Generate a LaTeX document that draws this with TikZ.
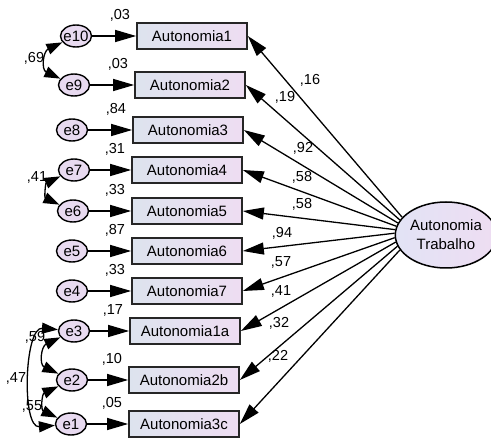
\documentclass[tikz,border=0pt]{standalone}
\usepackage{fontspec}
\setmainfont{Liberation Sans}
\usetikzlibrary{arrows.meta,shapes.geometric}

\definecolor{boxblue}{HTML}{DDE3EE}
\definecolor{boxpink}{HTML}{EEDDF2}
\definecolor{errfill}{HTML}{E8DAF0}
\definecolor{latblue}{HTML}{E2E3F5}

\begin{document}
\begin{tikzpicture}[x=1pt,y=1pt,
    obs/.style={rectangle,draw=black!85,line width=1.7pt,minimum width=110pt,minimum height=26pt,
        inner sep=0pt,left color=boxblue,right color=boxpink,font=\fontsize{15}{16}\selectfont},
    err/.style={ellipse,draw,line width=1.4pt,fill=errfill,minimum width=31pt,minimum height=22pt,
        inner xsep=-2pt,inner ysep=0pt,font=\fontsize{15}{16}\selectfont},
    lat/.style={ellipse,draw,line width=1.5pt,left color=latblue,right color=boxpink,
        minimum width=89pt,minimum height=66pt,inner sep=0pt,align=center,font=\fontsize{15}{19}\selectfont},
    load/.style={-{Triangle[length=21pt,width=12pt]},line width=1.3pt},
    cov/.style={{Triangle[length=16pt,width=11pt]}-{Triangle[length=16pt,width=11pt]},line width=1.3pt},
    lbl/.style={font=\fontsize{14.5}{16}\selectfont,inner sep=0pt},
    r2/.style={lbl,anchor=south east,xshift=-6pt,yshift=1pt}
]
    \useasboundingbox (0,0) rectangle (491,-441);

    % latent variable
    \node [lat] (AT) at (446,-235) {Autonomia\\Trabalho};

    % observed items
    \node [obs] (A1) at (192,-36) {Autonomia1};
    \node [obs] (A2) at (190,-85) {Autonomia2};
    \node [obs] (A3) at (188,-130) {Autonomia3};
    \node [obs] (A4) at (187,-170) {Autonomia4};
    \node [obs] (A5) at (187,-211) {Autonomia5};
    \node [obs] (A6) at (187,-251) {Autonomia6};
    \node [obs] (A7) at (187,-291) {Autonomia7};
    \node [obs] (A1a) at (185,-331) {Autonomia1a};
    \node [obs] (A2b) at (184,-380) {Autonomia2b};
    \node [obs] (A3c) at (184,-424) {Autonomia3c};

    % errors
    \node [err] (e10) at (76,-36) {e10};
    \node [err] (e9) at (74,-85) {e9};
    \node [err] (e8) at (72,-130) {e8};
    \node [err] (e7) at (74,-170) {e7};
    \node [err] (e6) at (73,-211) {e6};
    \node [err] (e5) at (72,-251) {e5};
    \node [err] (e4) at (72,-291) {e4};
    \node [err] (e3) at (74,-331) {e3};
    \node [err] (e2) at (72,-380) {e2};
    \node [err] (e1) at (71,-424) {e1};

    % error -> item
    \draw [load] (e10) -- (A1);
    \draw [load] (e9) -- (A2);
    \draw [load] (e8) -- (A3);
    \draw [load] (e7) -- (A4);
    \draw [load] (e6) -- (A5);
    \draw [load] (e5) -- (A6);
    \draw [load] (e4) -- (A7);
    \draw [load] (e3) -- (A1a);
    \draw [load] (e2) -- (A2b);
    \draw [load] (e1) -- (A3c);

    % R2 values
    \node [r2] at (A1.north west) {,03};
    \node [r2] at (A2.north west) {,03};
    \node [r2] at (A3.north west) {,84};
    \node [r2] at (A4.north west) {,31};
    \node [r2] at (A5.north west) {,33};
    \node [r2] at (A6.north west) {,87};
    \node [r2] at (A7.north west) {,33};
    \node [r2] at (A1a.north west) {,17};
    \node [r2] at (A2b.north west) {,10};
    \node [r2] at (A3c.north west) {,05};

    % loadings
    \draw [load] (AT.158) -- (A1.east);
    \draw [load] (AT.162) -- (A2.east);
    \draw [load] (AT.166) -- (A3.east);
    \draw [load] (AT.170) -- (A4.east);
    \draw [load] (AT.174) -- (A5.east);
    \draw [load] (AT.178) -- (A6.east);
    \draw [load] (AT.183) -- (A7.east);
    \draw [load] (AT.188) -- (A1a.east);
    \draw [load] (AT.193) -- (A2b.east);
    \draw [load] (AT.198) -- (A3c.east);

    \node [lbl] at (310,-80) {,16};
    \node [lbl] at (285,-97) {,19};
    \node [lbl] at (303,-148) {,92};
    \node [lbl] at (302,-177) {,58};
    \node [lbl] at (302,-204) {,58};
    \node [lbl] at (282,-233) {,94};
    \node [lbl] at (281,-262) {,57};
    \node [lbl] at (281,-291) {,41};
    \node [lbl] at (279,-323) {,32};
    \node [lbl] at (278,-356) {,22};

    % covariances
    \draw [cov] (e10) to [out=205,in=155,looseness=1.5] (e9);
    \draw [cov] (e7) to [out=205,in=155,looseness=1.5] (e6);
    \draw [cov] (e3) to [out=205,in=155,looseness=1.5] (e2);
    \draw [cov] (e2) to [out=205,in=155,looseness=1.5] (e1);
    \draw [cov] (e3) to [out=175,in=185,looseness=0.9] (e1);

    \node [lbl] at (34,-58) {,69};
    \node [lbl] at (37,-177) {,41};
    \node [lbl] at (35,-337) {,59};
    \node [lbl] at (16,-378) {,47};
    \node [lbl] at (32,-406) {,55};
\end{tikzpicture}
\end{document}
